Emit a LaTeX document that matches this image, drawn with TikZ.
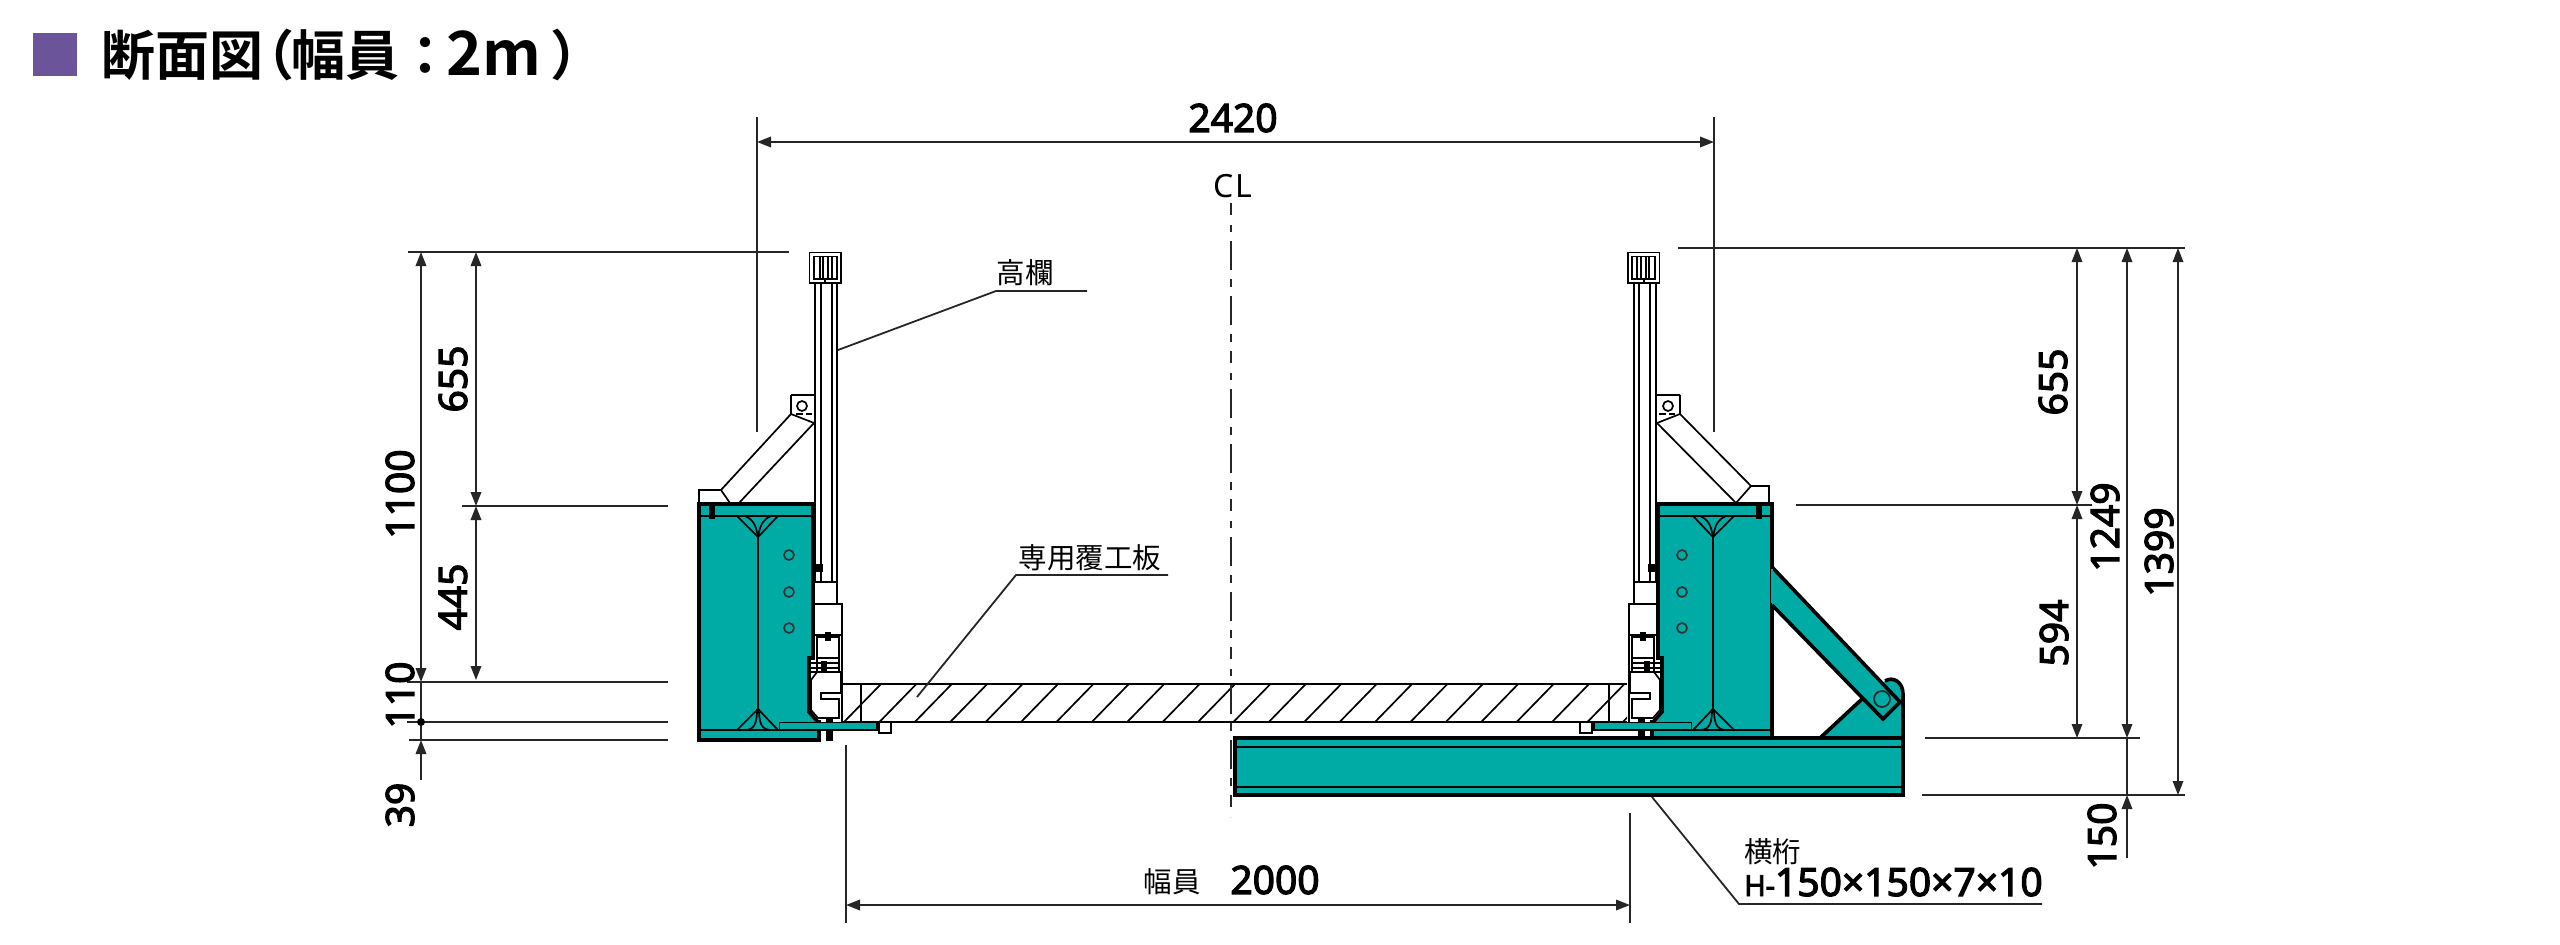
\documentclass[tikz,border=0pt]{standalone}
\usepackage{fontspec}
\usetikzlibrary{arrows.meta}
\setmainfont{Noto Sans}
\newfontfamily\numfont[FakeBold=3]{Noto Sans}
\newfontfamily\jpfont{Noto Sans CJK JP}
\newfontfamily\jpbold[BoldFont={Noto Sans CJK JP Bold}]{Noto Sans CJK JP}
\definecolor{steel}{HTML}{00ABA6}
\definecolor{titlemark}{HTML}{6B5499}
\tikzset{
  thinl/.style={line width=1.7pt,black},
  extl/.style={line width=1.8pt,black!85},
  heavy/.style={line width=3.6pt,black,line join=miter},
  webl/.style={line width=2.6pt,black},
  dimboth/.style={line width=1.8pt,black!85,{Triangle[length=14pt,width=10.5pt]}-{Triangle[length=14pt,width=10.5pt]}},
  dimone/.style={line width=1.8pt,black!85,-{Triangle[length=14pt,width=10.5pt]}},
  num/.style={inner sep=0pt,font=\numfont\fontsize{39}{39}\selectfont},
  jp/.style={inner sep=0pt,font=\jpfont\fontsize{28.5}{28.5}\selectfont},
}
\newcommand{\railbox}{%
  \draw[thinl] (809.5,252.5) rectangle (841,283);
  \draw[thinl] (814,256.5) rectangle (837,279);
  \draw[thinl] (820,256.5)--(820,279) (823,256.5)--(823,279) (828,256.5)--(828,279) (832,256.5)--(832,279) (825,279)--(825,283);
}
\newcommand{\sideparts}{%
  % rail
  \draw[thinl] (815,283)--(815,582) (821,283)--(821,582) (832,283)--(832,582) (837,283)--(837,582);
  \draw[thinl] (815,582)--(837,582)--(837,604);
  % clamp outer
  \draw[thinl] (814,635)--(814,604)--(842,604)--(842,722);
  \draw[thinl] (814,635)--(842,635);
  % column
  \path[fill=steel] (699,504)--(813,504)--(813,658)--(809,658)--(809,712)--(818,722)--(819,740)--(699,740)--cycle;
  \draw[heavy] (699,504)--(813,504)--(813,658)--(809,658)--(809,712)--(818,722)--(819,722)--(819,740)--(699,740)--cycle;
  \draw[thinl] (700,516)--(812,516);
  \draw[thinl] (700,730)--(780,730);
  \draw[webl] (758,537)--(758,709);
  \draw[thinl] (737,516)--(758,537)--(778,516);
  \draw[thinl] (758,537) .. controls (756,526) and (754,520) .. (745,516);
  \draw[thinl] (758,537) .. controls (760,526) and (762,520) .. (771,516);
  \draw[thinl] (737,730)--(758,709)--(778,730);
  \draw[thinl] (757,709) .. controls (757,722) and (755,730) .. (745,730);
  \draw[thinl] (759,709) .. controls (759,722) and (761,730) .. (771,730);
  \fill[black] (709,505) rectangle (715,519);
  \foreach \hy in {555,592,628} {\draw[line width=1.7pt,black!80,fill=steel] (789,\hy) circle (5);}
  \fill[black] (815,564) rectangle (823,572);
  % clamp inner
  \draw[thinl,fill=white] (817,672)--(811,680)--(811,710)--(818,718)--(839,718)--(839,699)--(821,699)--(821,693)--(841,693)--(841,672)--cycle;
  \draw[thinl] (817,672)--(817,637)--(839,637)--(839,672);
  \draw[thinl] (817,658)--(839,658);
  \draw[line width=1.3pt] (810,663)--(840,663) (810,668)--(840,668) (811,672)--(840,672);
  \fill[black] (825,632) rectangle (831,641);
  \fill[black] (821,661) rectangle (827,673);
  % base plate and bits
  \draw[thinl,fill=steel] (779.5,722.5) rectangle (877,730);
  \draw[thinl] (879,722)--(879,733)--(891,733)--(891,722);
  \fill[black] (826,718) rectangle (833,722);
  \fill[black] (826,730) rectangle (833,741);
}
\begin{document}
\begin{tikzpicture}[x=1pt,y=-1pt,line cap=butt]
\useasboundingbox (0,0) rectangle (2560,945);
% title
\fill[titlemark] (33,33) rectangle (77,76);
\node[anchor=west,inner sep=0pt,font=\jpbold\bfseries\fontsize{54}{54}\selectfont] (title) at (101,55) {断面図\kern-23pt（\kern-3pt 幅員\kern-1pt ：\kern-6pt {\fontsize{61}{61}\selectfont 2m}\kern10pt ）};
% deck
\draw[thinl] (842,684)--(1627,684) (842,722)--(1627,722);
\draw[thinl] (861,684)--(861,722) (1609,684)--(1609,722);
\begin{scope}
\clip (842,684) rectangle (1627,722);
\foreach \b in {844,879.4,...,1640} {\draw[thinl] (\b,722)--(\b+37,684);}
\end{scope}
% centre line
\coordinate (cla) at (1231,203);
\coordinate (clb) at (1231,817);
\draw[line width=1.8pt,black!85,dash pattern=on 12pt off 10pt on 7pt off 9pt on 29pt off 9pt on 8pt off 9pt on 29pt off 9pt on 8pt off 9pt] (cla)--(clb);
% left assembly
\railbox
\draw[thinl] (791,395)--(815,395) (791,395)--(791,414)--(814,423);
\draw[thinl] (802,406) circle (5);
\draw[line width=1.4pt,dash pattern=on 7pt off 3pt] (796,414)--(812,414);
\draw[thinl] (791,414)--(721,490)--(730,503) (814,423)--(739,503);
\draw[thinl] (721,490)--(699,490)--(699,503);
\sideparts
% right assembly
\begin{scope}[xshift=2471pt,xscale=-1]
\sideparts
\end{scope}
\begin{scope}[xshift=2469pt,xscale=-1]
\railbox
\end{scope}
\draw[thinl] (1680,395)--(1656,395) (1680,395)--(1680,414)--(1657,423);
\draw[thinl] (1668,406) circle (5);
\draw[line width=1.4pt,dash pattern=on 7pt off 3pt] (1659,414)--(1675,414);
\draw[thinl] (1680,414)--(1751,486)--(1736,503) (1657,423)--(1736,503);
\draw[thinl] (1751,486)--(1769,486)--(1769,503);
% gusset and brace
\path[fill=steel] (1820,738)--(1862,699)--(1885,681) .. controls (1893,676) and (1903,682) .. (1903,694)--(1903,738)--cycle;
\draw[heavy] (1820,738)--(1862,699);
\draw[heavy] (1885,681) .. controls (1893,676) and (1903,682) .. (1903,694)--(1903,738);
\draw[heavy,fill=steel] (1772,567)--(1900,702)--(1883,719)--(1772,605);
\path[fill=steel] (1771,569) rectangle (1773,603);
\draw[thinl,black!85,fill=steel] (1882,699) circle (8);
% beam
\draw[heavy,fill=steel] (1235,738) rectangle (1903,795);
\draw[thinl] (1236,747)--(1902,747) (1236,787)--(1902,787);
% top dimension
\coordinate (tl) at (757,142); \coordinate (tr) at (1714,142);
\coordinate (tle) at (757,117); \coordinate (tlf) at (757,432);
\coordinate (tre) at (1714,117); \coordinate (trf) at (1714,432);
\draw[extl] (tle)--(tlf) (tre)--(trf);
\draw[dimboth] (tl)--(tr);
\node[num] (d2420) at (1233,118) {2420};
\node[inner sep=0pt,font=\fontsize{32}{32}\selectfont] (cl) at (1233,186) {C\kern1.5pt L};
% left dimensions
\coordinate (la) at (421,252); \coordinate (lb) at (421,682); \coordinate (lc) at (421,722); \coordinate (ld) at (421,740); \coordinate (le) at (421,780);
\coordinate (ma) at (476,252); \coordinate (mb) at (476,506); \coordinate (mc) at (476,680);
\draw[extl] (408,252)--(789,252);
\draw[extl] (462,506)--(668,506);
\draw[extl] (407,682)--(668,682);
\draw[extl] (407,722)--(668,722);
\draw[extl] (409,740)--(668,740);
\draw[dimboth] (la)--(lb);
\draw[extl] (lb)--(ld);
\draw[dimone] (le)--(ld);
\fill[black] (lc) circle (4);
\draw[dimboth] (ma)--(mb);
\draw[dimboth] (mb)--(mc);
\node[num,rotate=90] (d1100) at (400,494) {1100};
\node[num,rotate=90] (d655l) at (453,379) {655};
\node[num,rotate=90] (d445) at (453,597) {445};
\node[num,rotate=90] (d110) at (400,695) {110};
\node[num,rotate=90] (d39) at (400,805) {39};
% right dimensions
\coordinate (ra) at (2077,248); \coordinate (rb) at (2077,505); \coordinate (rc) at (2077,738);
\coordinate (sa) at (2127,248); \coordinate (sb) at (2127,738); \coordinate (sc) at (2127,795); \coordinate (sd) at (2127,858);
\coordinate (ua) at (2178,248); \coordinate (ub) at (2178,795);
\draw[extl] (1678,248)--(2185,248);
\draw[extl] (1796,505)--(2092,505);
\draw[extl] (1925,738)--(2140,738);
\draw[extl] (1922,795)--(2185,795);
\draw[dimboth] (ra)--(rb);
\draw[dimboth] (rb)--(rc);
\draw[dimboth] (sa)--(sb);
\draw[extl] (sb)--(sc);
\draw[dimone] (sd)--(sc);
\draw[dimboth] (ua)--(ub);
\node[num,rotate=90] (d655r) at (2053,382) {655};
\node[num,rotate=90] (d594) at (2054,633) {594};
\node[num,rotate=90] (d1249) at (2105,527) {1249};
\node[num,rotate=90] (d1399) at (2159,552) {1399};
\node[num,rotate=90] (d150) at (2102,836) {150};
% bottom dimension
\coordinate (bl) at (846,905); \coordinate (br) at (1630,905);
\coordinate (ble) at (846,745); \coordinate (blf) at (846,923);
\coordinate (bre) at (1630,813); \coordinate (brf) at (1630,923);
\draw[extl] (ble)--(blf) (bre)--(brf);
\draw[dimboth] (bl)--(br);
\node[jp] (haba) at (1172,882) {幅員};
\node[num] (d2000) at (1275,880) {2000};
% leaders
\coordinate (p1) at (838,350); \coordinate (p1a) at (996,291); \coordinate (p1b) at (1087,291);
\draw[extl] (p1)--(p1a)--(p1b);
\node[jp] (koran) at (1025,273) {高欄};
\coordinate (p2) at (917,697); \coordinate (p2a) at (1016,575); \coordinate (p2b) at (1168,575);
\draw[extl] (p2)--(p2a)--(p2b);
\node[jp] (fukko) at (1090,558) {専用覆工板};
\coordinate (p3) at (1652,797); \coordinate (p3a) at (1739,904); \coordinate (p3b) at (2042,904);
\draw[extl] (p3)--(p3a)--(p3b);
\node[jp,anchor=west] (yoko) at (1744,852) {横桁};
\node[anchor=base west,inner sep=0pt,font=\numfont\fontsize{39}{39}\selectfont] (hsec) at (1744,896) {{\fontsize{29}{29}\selectfont H-}150×150×7×10};
\end{tikzpicture}
\end{document}
